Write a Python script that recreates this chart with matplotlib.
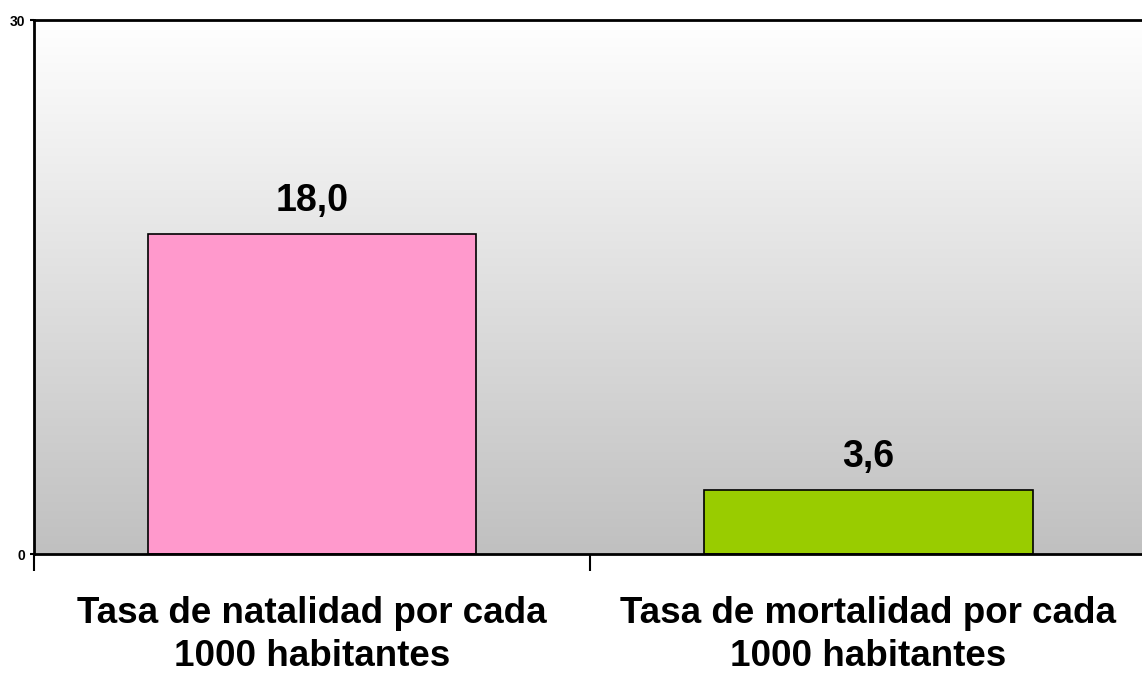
import numpy as np
import matplotlib
matplotlib.use("Agg")
import matplotlib.pyplot as plt

categories = ["Tasa de natalidad por cada\n1000 habitantes",
              "Tasa de mortalidad por cada\n1000 habitantes"]
values = [18.0, 3.6]
value_labels = ["18,0", "3,6"]
colors = ["#FF99CC", "#99CC00"]

plt.rcParams["font.family"] = ["Liberation Sans", "DejaVu Sans"]

fig = plt.figure(figsize=(11.42, 6.75), dpi=100)
ax = fig.add_axes([34/1142, 1 - 554/675, 1 - 34/1142 + 0.004, 534/675])

# gradient background: white at top to grey at bottom
grad = np.linspace(0, 1, 256).reshape(-1, 1)
ax.imshow(grad, extent=[-0.5, 1.5, 0, 30], aspect="auto", origin="upper",
          cmap=matplotlib.colors.LinearSegmentedColormap.from_list("g", ["#ffffff", "#c0c0c0"]),
          zorder=0)

x = np.arange(len(values))
ax.bar(x, values, width=0.59, color=colors, edgecolor="black", linewidth=1.2, zorder=2)
for xi, v, lab in zip(x, values, value_labels):
    ax.annotate(lab, (xi, v), xytext=(0, 23), textcoords="offset pixels",
                ha="center", va="baseline", fontsize=27, fontweight="bold")

ax.set_xlim(-0.5, 1.5)
ax.set_ylim(0, 30)
ax.set_yticks([0, 30])
ax.set_yticklabels(["0", "30"], fontsize=10, fontweight="bold")
ax.tick_params(axis="y", length=3, width=1.5, pad=3)

ax.set_xticks([-0.5, 0.5, 1.5])
ax.set_xticklabels([])
ax.tick_params(axis="x", length=12, width=1.5)
for xi, c in zip(x, categories):
    for k, line in enumerate(c.split("\n")):
        ax.annotate(line, (xi, 0), xytext=(0, -69 - 43 * k), textcoords="offset pixels",
                    ha="center", va="baseline", fontsize=26.5, fontweight="bold",
                    annotation_clip=False)

ax.spines["right"].set_visible(False)
for s in ["left", "bottom", "top"]:
    ax.spines[s].set_linewidth(2)

fig.savefig("out.png", dpi=100)
